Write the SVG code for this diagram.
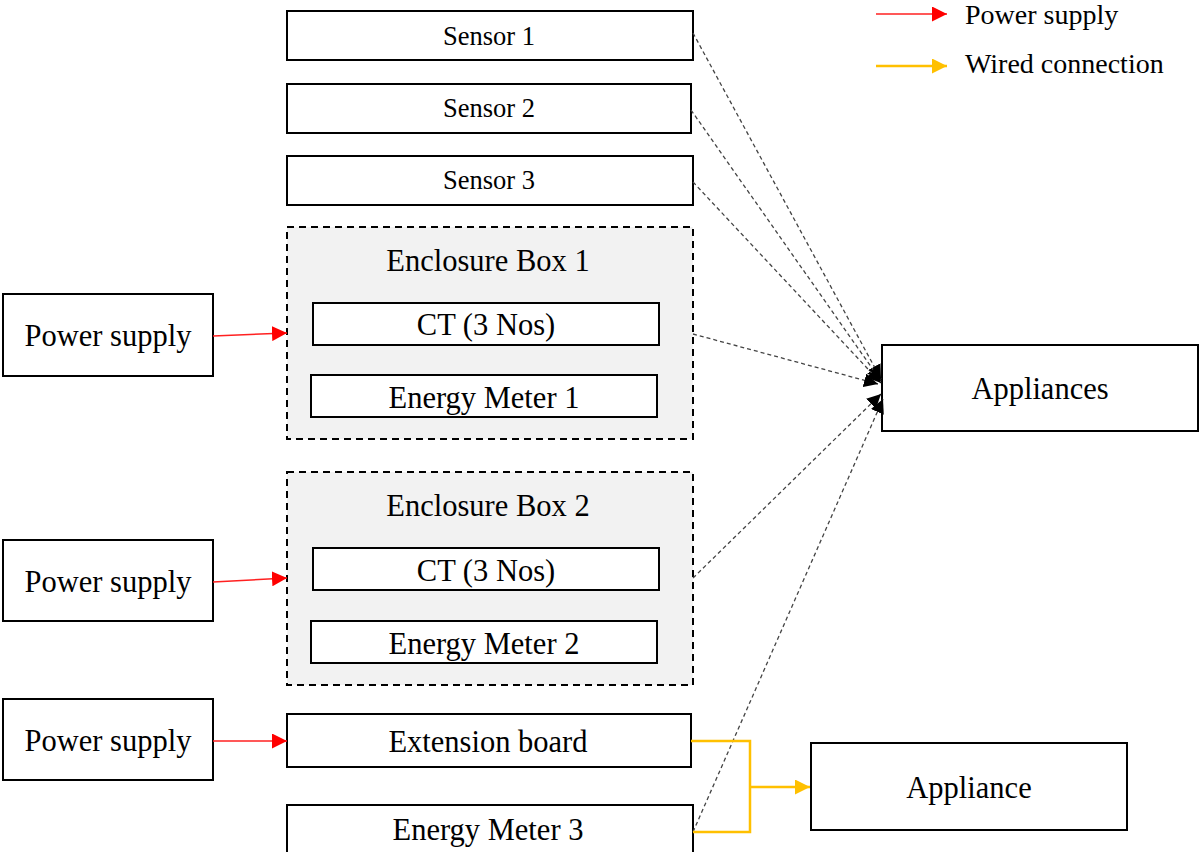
<svg xmlns="http://www.w3.org/2000/svg" width="1200" height="852" viewBox="0 0 1200 852">
<defs>
<style>
.box{fill:#fff;stroke:#000;stroke-width:2}
.encl{fill:#f2f2f2;stroke:#000;stroke-width:2;stroke-dasharray:7 5}
.t{font-family:"Liberation Serif","Times New Roman",serif;fill:#000;text-anchor:middle}
.s{font-size:26.5px}
.g{font-size:28px;text-anchor:start}
.l{font-size:30.5px}
.dash{fill:none;stroke:#444;stroke-width:1.3;stroke-dasharray:4 3}
.red{fill:none;stroke:#ff2020;stroke-width:1.5}
.yel{fill:none;stroke:#ffc000;stroke-width:2.5}
</style>
<marker id="ar" viewBox="0 0 10 10" refX="10" refY="5" markerWidth="15" markerHeight="15" markerUnits="userSpaceOnUse" orient="auto"><path d="M0,0 L10,5 L0,10 z" fill="#ff0000"/></marker>
<marker id="ay" viewBox="0 0 10 10" refX="10" refY="5" markerWidth="15" markerHeight="15" markerUnits="userSpaceOnUse" orient="auto"><path d="M0,0 L10,5 L0,10 z" fill="#ffc000"/></marker>
<marker id="ab" viewBox="0 0 10 10" refX="10" refY="5" markerWidth="14" markerHeight="14" markerUnits="userSpaceOnUse" orient="auto"><path d="M0,0 L10,5 L0,10 z" fill="#000"/></marker>
</defs>
<g id="legend">
<line class="red" x1="876" y1="14" x2="947" y2="14" marker-end="url(#ar)"/>
<text class="t g" x="965" y="24">Power supply</text>
<line class="yel" x1="876" y1="66" x2="947" y2="66" stroke-width="1.5" marker-end="url(#ay)"/>
<text class="t g" x="965" y="73">Wired connection</text>
</g>
<g id="sensor1"><rect class="box" x="287" y="11" width="406" height="49"/><text class="t s" x="489" y="45">Sensor 1</text></g>
<g id="sensor2"><rect class="box" x="287" y="84" width="404" height="49"/><text class="t s" x="489" y="117">Sensor 2</text></g>
<g id="sensor3"><rect class="box" x="287" y="156" width="406" height="49"/><text class="t s" x="489" y="189">Sensor 3</text></g>
<g id="enclosure1">
<rect class="encl" x="287" y="227" width="406" height="212"/>
<text class="t l" x="488" y="271">Enclosure Box 1</text>
<rect class="box" x="313" y="303" width="346" height="42"/><text class="t l" x="486" y="335">CT (3 Nos)</text>
<rect class="box" x="311" y="375" width="346" height="42"/><text class="t l" x="484" y="408">Energy Meter 1</text>
</g>
<g id="enclosure2">
<rect class="encl" x="287" y="472" width="406" height="213"/>
<text class="t l" x="488" y="516">Enclosure Box 2</text>
<rect class="box" x="313" y="548" width="346" height="42"/><text class="t l" x="486" y="581">CT (3 Nos)</text>
<rect class="box" x="311" y="621" width="346" height="42"/><text class="t l" x="484" y="654">Energy Meter 2</text>
</g>
<g id="extension"><rect class="box" x="287" y="714" width="404" height="53"/><text class="t l" x="488" y="752">Extension board</text></g>
<g id="meter3"><rect class="box" x="287" y="805" width="406" height="52"/><text class="t l" x="488" y="840">Energy Meter 3</text></g>
<g id="ps1"><rect class="box" x="3" y="294" width="210" height="82"/><text class="t l" x="108" y="346">Power supply</text></g>
<g id="ps2"><rect class="box" x="3" y="540" width="210" height="81"/><text class="t l" x="108" y="592">Power supply</text></g>
<g id="ps3"><rect class="box" x="3" y="699" width="210" height="81"/><text class="t l" x="108" y="751">Power supply</text></g>
<g id="appliances"><rect class="box" x="882" y="345" width="316" height="86"/><text class="t l" x="1040" y="399">Appliances</text></g>
<g id="appliance"><rect class="box" x="811" y="743" width="316" height="87"/><text class="t l" x="969" y="798">Appliance</text></g>
<g id="connectors">
<line class="dash" x1="693" y1="33" x2="881" y2="379" marker-end="url(#ab)"/>
<line class="dash" x1="691" y1="110" x2="881" y2="381" marker-end="url(#ab)"/>
<line class="dash" x1="693" y1="182" x2="881" y2="383" marker-end="url(#ab)"/>
<line class="dash" x1="693" y1="334" x2="878" y2="384" marker-end="url(#ab)"/>
<line class="dash" x1="693" y1="578" x2="881" y2="394" marker-end="url(#ab)"/>
<line class="dash" x1="693" y1="832" x2="883" y2="399" marker-end="url(#ab)"/>
<line class="red" x1="213" y1="336" x2="287" y2="333" marker-end="url(#ar)"/>
<line class="red" x1="213" y1="582" x2="287" y2="578" marker-end="url(#ar)"/>
<line class="red" x1="213" y1="741" x2="287" y2="741" marker-end="url(#ar)"/>
<polyline class="yel" points="691,741 750,741 750,832 693,832"/>
<line class="yel" x1="750" y1="787" x2="810" y2="787" marker-end="url(#ay)"/>
</g>
</svg>
